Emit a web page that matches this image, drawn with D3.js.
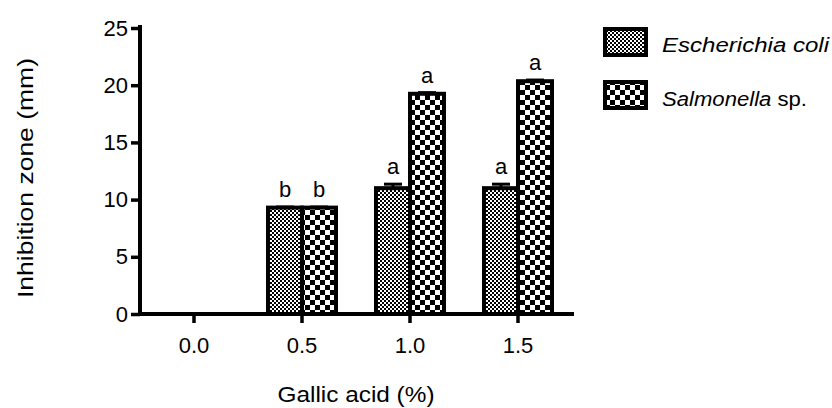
<!DOCTYPE html>
<html>
<head>
<meta charset="utf-8">
<script src="https://cdn.jsdelivr.net/npm/d3@7"></script>
<style>
  body { margin: 0; background: #fff; }
  svg { display: block; font-family: "Liberation Sans", Arial, sans-serif; }
  pattern rect { shape-rendering: crispEdges; }
</style>
</head>
<body>
<svg id="chart" width="832" height="408"></svg>
<script>
// gallic acid concentrations (%) and the two test organisms
var doses = ['0.0', '0.5', '1.0', '1.5'];
var organisms = ['ecoli', 'salmonella'];
var ecoliZone = [0, 9.3, 11.0, 11.0];
var ecoliErr = [0, 0.05, 0.35, 0.35];
var salmonellaZone = [0, 9.3, 19.25, 20.35];
var salmonellaErr = [0, 0.05, 0.1, 0.1];
var ecoliLetters = ['', 'b', 'a', 'a'];
var salmonellaLetters = ['', 'b', 'a', 'a'];
var yTicks = [0, 5, 10, 15, 20, 25];

var svg = d3.select('#chart');
var m = { left: 140, right: 572, top: 28, bottom: 314 };

var x = d3.scaleBand().domain(doses).range([m.left, m.right]).padding(0);
var inner = d3.scaleBand().domain(organisms).range([-34, 34]).padding(0);
var y = d3.scaleLinear().domain([0, 25]).range([m.bottom, m.top]);

// checker patterns: fine for E. coli, coarse for Salmonella
var defs = svg.append('defs');
function checker(id, cell){
  var p = defs.append('pattern').attr('id', id)
    .attr('patternUnits', 'userSpaceOnUse')
    .attr('width', cell * 2).attr('height', cell * 2);
  p.append('rect').attr('width', cell * 2).attr('height', cell * 2).attr('fill', '#fff');
  p.append('rect').attr('width', cell).attr('height', cell).attr('fill', '#000');
  p.append('rect').attr('x', cell).attr('y', cell).attr('width', cell).attr('height', cell).attr('fill', '#000');
}
checker('pat-ecoli', 2);
checker('pat-salmonella', 5);
var fills = { ecoli: 'url(#pat-ecoli)', salmonella: 'url(#pat-salmonella)' };

var rows = [];
doses.forEach(function(d, i){
  rows.push({ dose: d, org: 'ecoli', val: ecoliZone[i], err: ecoliErr[i], letter: ecoliLetters[i] });
  rows.push({ dose: d, org: 'salmonella', val: salmonellaZone[i], err: salmonellaErr[i], letter: salmonellaLetters[i] });
});
function cx(d){ return x(d.dose) + x.bandwidth() / 2 + inner(d.org); }

// bars
svg.append('g').selectAll('rect.bar').data(rows).enter().append('rect')
  .attr('class', 'bar')
  .attr('x', cx)
  .attr('y', function(d){ return y(d.val); })
  .attr('width', inner.bandwidth())
  .attr('height', function(d){ return y(0) - y(d.val); })
  .attr('fill', function(d){ return fills[d.org]; })
  .attr('stroke', '#000').attr('stroke-width', 4);

// error bars (upper half only, like the original)
var eb = svg.append('g').selectAll('g.err').data(rows.filter(function(d){ return d.val > 0; })).enter().append('g').attr('class', 'err');
eb.append('line')
  .attr('x1', function(d){ return cx(d) + inner.bandwidth() / 2; })
  .attr('x2', function(d){ return cx(d) + inner.bandwidth() / 2; })
  .attr('y1', function(d){ return y(d.val); })
  .attr('y2', function(d){ return y(d.val + d.err); })
  .attr('stroke', '#000').attr('stroke-width', 3);
eb.append('line')
  .attr('x1', function(d){ return cx(d) + inner.bandwidth() / 2 - 9; })
  .attr('x2', function(d){ return cx(d) + inner.bandwidth() / 2 + 9; })
  .attr('y1', function(d){ return y(d.val + d.err); })
  .attr('y2', function(d){ return y(d.val + d.err); })
  .attr('stroke', '#000').attr('stroke-width', 3);

// significance letters
svg.append('g').selectAll('text.sig').data(rows.filter(function(d){ return d.letter; })).enter().append('text')
  .attr('class', 'sig')
  .attr('x', function(d){ return cx(d) + inner.bandwidth() / 2; })
  .attr('y', function(d){ return y(d.val + d.err) - 10; })
  .attr('text-anchor', 'middle')
  .attr('font-size', 22)
  .text(function(d){ return d.letter; });

// axes
var yAxis = svg.append('g').attr('transform', 'translate(' + m.left + ',0)')
  .call(d3.axisLeft(y).tickValues(yTicks).tickSize(9).tickPadding(3).tickSizeOuter(0));
var xAxis = svg.append('g').attr('transform', 'translate(0,' + m.bottom + ')')
  .call(d3.axisBottom(x).tickSize(9).tickPadding(14).tickSizeOuter(0));
[yAxis, xAxis].forEach(function(a){
  a.select('.domain').attr('stroke', '#000').attr('stroke-width', 4).attr('stroke-linecap', 'square');
  a.selectAll('.tick line').attr('stroke', '#000').attr('stroke-width', 3.5);
  a.selectAll('.tick text').attr('fill', '#000').attr('font-size', 22).attr('font-family', null);
});
xAxis.select('.domain').attr('d', 'M' + m.left + ',0H' + m.right);
yAxis.select('.domain').attr('d', 'M0,' + (m.top - 1) + 'V' + m.bottom);

// axis titles
svg.append('text')
  .attr('x', (m.left + m.right) / 2).attr('y', 402)
  .attr('text-anchor', 'middle').attr('font-size', 22)
  .attr('textLength', 157).attr('lengthAdjust', 'spacingAndGlyphs')
  .text('Gallic acid (%)');
svg.append('text')
  .attr('transform', 'translate(33,178) rotate(-90)')
  .attr('text-anchor', 'middle').attr('font-size', 22)
  .attr('textLength', 240).attr('lengthAdjust', 'spacingAndGlyphs')
  .text('Inhibition zone (mm)');

// legend
var legend = svg.append('g').attr('class', 'legend');
var legendItems = [
  { org: 'ecoli', y: 29, base: 52, len: 167, parts: [['Escherichia coli', 'italic']] },
  { org: 'salmonella', y: 82, base: 106, len: 145, parts: [['Salmonella', 'italic'], [' sp.', 'normal']] }
];
legendItems.forEach(function(it){
  legend.append('rect')
    .attr('x', 605).attr('y', it.y).attr('width', 41).attr('height', 26)
    .attr('fill', fills[it.org]).attr('stroke', '#000').attr('stroke-width', 4);
  var t = legend.append('text').attr('x', 662).attr('y', it.base).attr('font-size', 20)
    .attr('textLength', it.len).attr('lengthAdjust', 'spacingAndGlyphs');
  it.parts.forEach(function(p){
    t.append('tspan').attr('font-style', p[1]).text(p[0]);
  });
});
</script>
</body>
</html>
